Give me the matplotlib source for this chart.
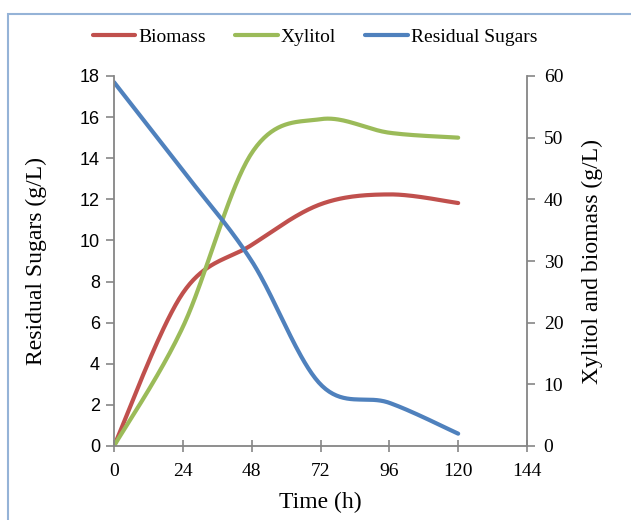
import matplotlib.pyplot as plt
import numpy as np
from matplotlib.patches import Rectangle

time_h = [0, 24, 48, 72, 96, 120]
biomass = [0, 24.8, 32.6, 39.2, 40.8, 39.4]
xylitol = [0, 19.3, 47.5, 53.0, 50.8, 50.0]
sugars = [17.7, 13.4, 9.0, 3.0, 2.1, 0.6]

x_ticks = [0, 24, 48, 72, 96, 120, 144]

red = "#C0504D"
green = "#9BBB59"
blue = "#4F81BD"
grey = "#868686"


def smooth(xs, ys, n=40):
    # excel-like smoothed line: catmull-rom through the points
    xs = np.asarray(xs, float)
    ys = np.asarray(ys, float)
    px = np.concatenate([[xs[0]], xs, [xs[-1]]])
    py = np.concatenate([[ys[0]], ys, [ys[-1]]])
    outx, outy = [], []
    t = np.linspace(0, 1, n)
    for i in range(1, len(px) - 2):
        x0, x1, x2, x3 = px[i - 1:i + 3]
        y0, y1, y2, y3 = py[i - 1:i + 3]
        c1x, c1y = x1 + (x2 - x0) / 6, y1 + (y2 - y0) / 6
        c2x, c2y = x2 - (x3 - x1) / 6, y2 - (y3 - y1) / 6
        bx = (1 - t) ** 3 * x1 + 3 * (1 - t) ** 2 * t * c1x + 3 * (1 - t) * t ** 2 * c2x + t ** 3 * x2
        by = (1 - t) ** 3 * y1 + 3 * (1 - t) ** 2 * t * c1y + 3 * (1 - t) * t ** 2 * c2y + t ** 3 * y2
        outx.extend(bx)
        outy.extend(by)
    return outx, outy


serif = "Liberation Serif"
sans = "Liberation Sans"

fig = plt.figure(figsize=(6.31, 5.2), dpi=100)
fig.patches.append(Rectangle((8 / 631, -0.1), 1.2, 1 - 14 / 520 + 0.1, transform=fig.transFigure,
                             fill=False, edgecolor="#95B3D7", linewidth=1.5))

ax = fig.add_axes([114 / 631, 1 - 446 / 520, (527 - 114) / 631, (446 - 76) / 520])
ax2 = ax.twinx()

bx, by = smooth(time_h, biomass)
l1, = ax2.plot(bx, by, color=red, lw=3, solid_capstyle="round", label="Biomass")
gx, gy = smooth(time_h, xylitol)
l2, = ax2.plot(gx, gy, color=green, lw=3, solid_capstyle="round", label="Xylitol")
sx, sy = smooth(time_h, sugars)
l3, = ax.plot(sx, sy, color=blue, lw=3, solid_capstyle="round", label="Residual Sugars")
ax.set_zorder(ax2.get_zorder() + 1)
ax.patch.set_visible(False)

ax.set_xlim(0, 144)
ax.set_ylim(0, 18)
ax2.set_ylim(0, 60)
ax.set_xticks(x_ticks)
ax.set_yticks(range(0, 19, 2))
ax2.set_yticks(range(0, 61, 10))

for a in (ax, ax2):
    a.spines["top"].set_visible(False)
    for s in a.spines.values():
        s.set_color(grey)
        s.set_linewidth(1.3)
ax.spines["right"].set_visible(False)
ax2.spines["left"].set_visible(False)
ax2.spines["bottom"].set_visible(False)

ax.tick_params(axis="y", direction="out", length=6, width=1.2, color=grey, pad=4, labelsize=13)
ax.tick_params(axis="x", direction="inout", length=9, width=1.2, color=grey, pad=8)
ax2.tick_params(axis="y", direction="out", length=6, width=1.2, color=grey, pad=6)
for lab in ax.get_yticklabels():
    lab.set_fontfamily(sans)
for lab in ax.get_xticklabels():
    lab.set_fontfamily(serif)
    lab.set_fontsize(14)
for lab in ax2.get_yticklabels():
    lab.set_fontfamily(serif)
    lab.set_fontsize(14)

ax.set_xlabel("Time (h)", family=serif, fontsize=17, labelpad=8)
ax.set_ylabel("Residual Sugars (g/L)", family=serif, fontsize=17, labelpad=24)
ax2.set_ylabel("Xylitol and biomass (g/L)", family=serif, fontsize=17, labelpad=13)

fig.legend(handles=[l1, l2, l3], loc="center", bbox_to_anchor=(315 / 631, 1 - 37 / 520), ncol=3,
           frameon=False, prop={"family": serif, "size": 14}, handlelength=2.2,
           handletextpad=0.15, columnspacing=1.5)

fig.savefig("out.png", dpi=100)
